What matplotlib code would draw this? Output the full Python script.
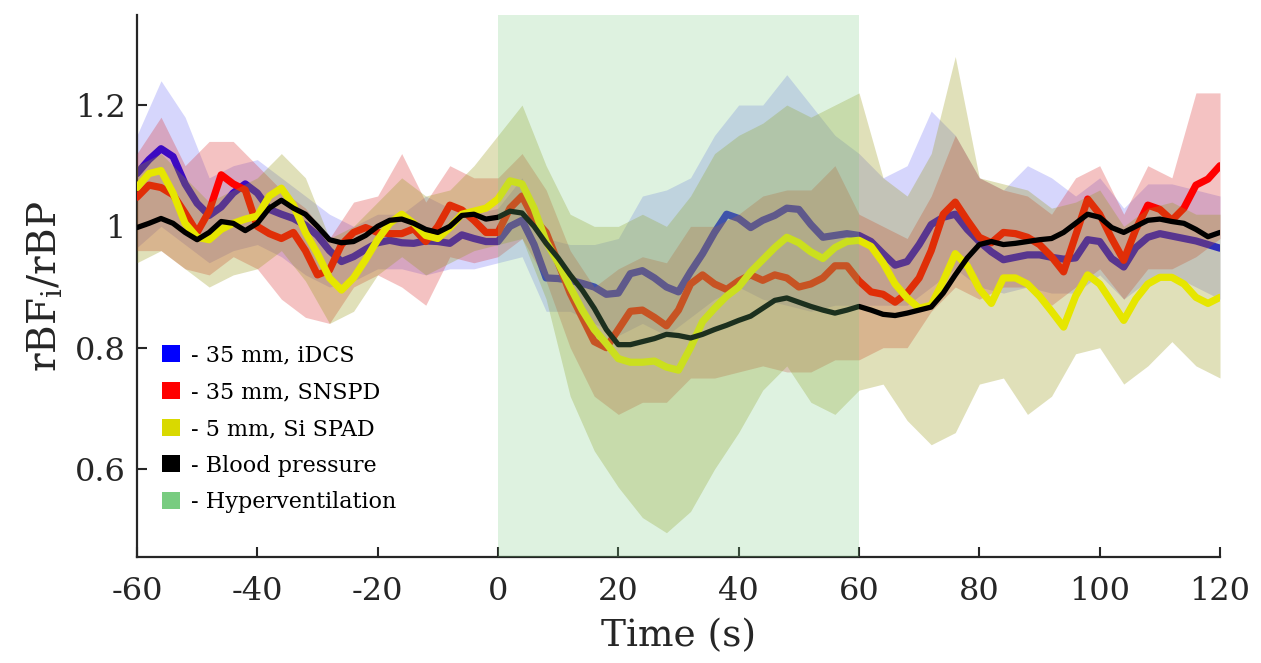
import numpy as np
import matplotlib
matplotlib.use("Agg")
import matplotlib.pyplot as plt
from matplotlib.patches import Patch

# ---- data ----
t_line = list(range(-60, 121, 2))
idcs = [1.087, 1.11, 1.128, 1.115, 1.07, 1.038, 1.018, 1.032, 1.055, 1.07, 1.055, 1.028, 1.02, 1.013,
        1.002, 0.985, 0.96, 0.942, 0.95, 0.962, 0.973, 0.977, 0.973, 0.972, 0.976, 0.975, 0.972, 0.986,
        0.98, 0.975, 0.975, 1.0, 1.01, 0.97, 0.915, 0.914, 0.911, 0.906, 0.9, 0.888, 0.89, 0.922, 0.927,
        0.915, 0.9, 0.892, 0.925, 0.955, 0.99, 1.02, 1.013, 0.998, 1.01, 1.018, 1.03, 1.028, 1.003, 0.982,
        0.985, 0.988, 0.985, 0.975, 0.955, 0.936, 0.942, 0.97, 1.003, 1.015, 1.02, 0.995, 0.975, 0.958,
        0.945, 0.949, 0.953, 0.953, 0.949, 0.946, 0.948, 0.978, 0.975, 0.947, 0.933, 0.965, 0.982, 0.988,
        0.984, 0.98, 0.976, 0.97, 0.964]
snspd = [1.048, 1.068, 1.064, 1.052, 1.022, 0.99, 1.025, 1.085, 1.07, 1.06, 1.0, 0.988, 0.98, 0.99,
         0.96, 0.92, 0.928, 0.97, 0.99, 0.998, 0.99, 0.988, 0.988, 0.996, 0.975, 1.0, 1.035, 1.027, 1.01,
         0.99, 0.99, 1.03, 1.05, 1.012, 0.99, 0.94, 0.89, 0.85, 0.81, 0.8, 0.83, 0.86, 0.862, 0.85, 0.836,
         0.862, 0.905, 0.92, 0.905, 0.896, 0.91, 0.92, 0.911, 0.92, 0.915, 0.9, 0.905, 0.915, 0.935, 0.935,
         0.91, 0.892, 0.888, 0.875, 0.89, 0.915, 0.96, 1.02, 1.04, 1.01, 0.982, 0.973, 0.99, 0.988, 0.982,
         0.97, 0.95, 0.925, 0.985, 1.045, 1.02, 0.98, 0.944, 0.995, 1.035, 1.028, 1.01, 1.03, 1.068, 1.078,
         1.10]
sispad = [1.064, 1.087, 1.092, 1.055, 1.005, 0.982, 0.978, 0.995, 1.005, 1.012, 1.017, 1.05, 1.063,
          1.035, 0.99, 0.955, 0.915, 0.895, 0.915, 0.945, 0.978, 1.005, 1.02, 1.005, 0.985, 0.98, 0.998,
          1.02, 1.025, 1.03, 1.045, 1.075, 1.07, 1.03, 0.975, 0.94, 0.9, 0.862, 0.83, 0.807, 0.782, 0.776,
          0.776, 0.778, 0.768, 0.763, 0.8, 0.843, 0.865, 0.885, 0.9, 0.925, 0.945, 0.965, 0.982, 0.973,
          0.958, 0.947, 0.965, 0.975, 0.977, 0.967, 0.94, 0.905, 0.882, 0.865, 0.87, 0.91, 0.955, 0.935,
          0.897, 0.873, 0.915, 0.915, 0.905, 0.885, 0.86, 0.834, 0.885, 0.92, 0.905, 0.875, 0.845, 0.88,
          0.905, 0.916, 0.916, 0.905, 0.883, 0.873, 0.883]
bp = [0.998, 1.005, 1.013, 1.005, 0.99, 0.978, 0.99, 1.008, 1.005, 0.993, 1.005, 1.03, 1.043, 1.03,
      1.02, 1.0, 0.978, 0.973, 0.975, 0.985, 1.0, 1.01, 1.012, 1.005, 0.995, 0.99, 1.0, 1.018, 1.02,
      1.012, 1.015, 1.025, 1.022, 1.0, 0.972, 0.948, 0.92, 0.895, 0.865, 0.83, 0.805, 0.805, 0.81, 0.815,
      0.822, 0.82, 0.816, 0.822, 0.83, 0.837, 0.845, 0.852, 0.865, 0.878, 0.882, 0.875, 0.868, 0.862,
      0.857, 0.862, 0.868, 0.862, 0.855, 0.853, 0.857, 0.862, 0.867, 0.89, 0.92, 0.948, 0.97, 0.975,
      0.97, 0.972, 0.975, 0.978, 0.98, 0.99, 1.005, 1.02, 1.015, 0.998, 0.99, 1.0, 1.01, 1.012, 1.008,
      1.005, 0.995, 0.983, 0.99]

t_band = list(range(-60, 121, 4))
idcs_lo = [0.965, 1.0, 0.97, 0.94, 0.96, 0.97, 0.95, 0.92, 0.90, 0.91, 0.93, 0.93, 0.92, 0.93, 0.93, 0.94,
           0.95, 0.86, 0.86, 0.84, 0.82, 0.84, 0.82, 0.85, 0.88, 0.90, 0.88, 0.87, 0.86, 0.87, 0.87, 0.87,
           0.87, 0.90, 0.93, 0.90, 0.89, 0.90, 0.89, 0.89, 0.92, 0.88, 0.91, 0.92, 0.90, 0.88]
idcs_hi = [1.15, 1.24, 1.18, 1.08, 1.10, 1.11, 1.08, 1.05, 1.02, 1.00, 1.02, 1.02, 1.05, 1.03, 1.02, 1.03,
           1.08, 0.98, 0.97, 0.97, 0.98, 1.05, 1.06, 1.08, 1.15, 1.20, 1.20, 1.25, 1.20, 1.15, 1.12, 1.08,
           1.10, 1.19, 1.15, 1.08, 1.06, 1.10, 1.08, 1.05, 1.08, 1.03, 1.07, 1.07, 1.06, 1.05]
snspd_lo = [0.96, 0.96, 0.93, 0.92, 0.95, 0.93, 0.88, 0.85, 0.84, 0.90, 0.92, 0.90, 0.87, 0.95, 0.94, 0.95,
            0.98, 0.91, 0.80, 0.72, 0.69, 0.71, 0.71, 0.75, 0.75, 0.76, 0.77, 0.76, 0.76, 0.78, 0.78, 0.80,
            0.80, 0.86, 0.90, 0.88, 0.90, 0.90, 0.87, 0.90, 0.93, 0.88, 0.93, 0.93, 0.95, 0.98]
snspd_hi = [1.12, 1.18, 1.10, 1.14, 1.14, 1.10, 1.06, 1.03, 0.98, 1.04, 1.05, 1.12, 1.04, 1.10, 1.08, 1.08,
            1.12, 1.06, 0.96, 0.90, 0.93, 0.95, 0.94, 1.00, 1.00, 1.02, 1.05, 1.06, 1.06, 1.10, 1.02, 1.00,
            0.98, 1.05, 1.15, 1.08, 1.06, 1.05, 1.02, 1.08, 1.10, 1.02, 1.10, 1.08, 1.22, 1.22]
sispad_lo = [0.94, 0.96, 0.93, 0.90, 0.92, 0.93, 0.96, 0.91, 0.84, 0.86, 0.92, 0.95, 0.92, 0.94, 0.96, 0.97,
             0.98, 0.88, 0.72, 0.63, 0.57, 0.52, 0.495, 0.53, 0.60, 0.66, 0.73, 0.77, 0.71, 0.69, 0.73, 0.74,
             0.68, 0.64, 0.66, 0.74, 0.75, 0.69, 0.72, 0.79, 0.80, 0.74, 0.77, 0.81, 0.77, 0.75]
sispad_hi = [1.10, 1.12, 1.08, 1.04, 1.06, 1.08, 1.12, 1.08, 0.98, 1.00, 1.04, 1.08, 1.05, 1.06, 1.10, 1.15,
             1.20, 1.10, 1.02, 1.00, 1.00, 1.02, 1.00, 1.05, 1.12, 1.15, 1.17, 1.20, 1.18, 1.20, 1.22, 1.08,
             1.05, 1.12, 1.28, 1.08, 1.07, 1.06, 1.03, 1.04, 1.06, 1.00, 1.03, 1.04, 1.02, 1.02]

hyper_start, hyper_end = 0, 60
labels = ["- 35 mm, iDCS", "- 35 mm, SNSPD", "- 5 mm, Si SPAD", "- Blood pressure", "- Hyperventilation"]
xticks = [-60, -40, -20, 0, 20, 40, 60, 80, 100, 120]
yticks = [0.6, 0.8, 1.0, 1.2]
ytick_labels = ["0.6", "0.8", "1", "1.2"]

# ---- style ----
plt.rcParams['font.family'] = ['DejaVu Serif']
plt.rcParams['mathtext.fontset'] = 'dejavuserif'

c_blue = (0.0, 0.0, 1.0)
c_red = (1.0, 0.0, 0.0)
c_yel = (0.9, 0.9, 0.0)
c_green = (0.47, 0.80, 0.50)
spine_c = '#262626'

fig = plt.figure(figsize=(12.61, 6.63), dpi=100)
ax = fig.add_axes([0.1086, 0.1599, 0.8589, 0.8171])

ax.fill_between(t_band, idcs_lo, idcs_hi, color=(0.2, 0.2, 0.95), alpha=0.2, lw=0, zorder=1)
ax.plot(t_line, idcs, color=c_blue, lw=5.2, zorder=2, solid_capstyle='round')
ax.fill_between(t_band, snspd_lo, snspd_hi, color=(0.85, 0.15, 0.15), alpha=0.28, lw=0, zorder=3)
ax.plot(t_line, snspd, color=c_red, lw=5.2, zorder=4, solid_capstyle='round')
ax.fill_between(t_band, sispad_lo, sispad_hi, color=(0.6, 0.6, 0.1), alpha=0.3, lw=0, zorder=5)
ax.plot(t_line, sispad, color=c_yel, lw=5.2, zorder=6, solid_capstyle='round')
ax.plot(t_line, bp, color='black', lw=3.8, zorder=7, solid_capstyle='round')
ax.axvspan(hyper_start, hyper_end, color=c_green, alpha=0.24, lw=0, zorder=8)

ax.set_xlim(-60, 120)
ax.set_ylim(0.455, 1.348)
ax.set_xticks(xticks)
ax.set_xticklabels([str(v) for v in xticks])
ax.set_yticks(yticks)
ax.set_yticklabels(ytick_labels)
ax.tick_params(direction='in', length=7, width=1.5, colors=spine_c, labelsize=23, pad=8)
ax.tick_params(axis='x', pad=14)
for s in ['top', 'right']:
    ax.spines[s].set_visible(False)
for s in ['left', 'bottom']:
    ax.spines[s].set_linewidth(1.6)
    ax.spines[s].set_color(spine_c)

ax.set_xlabel('Time (s)', fontsize=27, color=spine_c, labelpad=8)
ax.set_ylabel(r'rBF$_{\mathrm{i}}$/rBP', fontsize=28, color=spine_c, labelpad=8)

handles = [Patch(facecolor=c, edgecolor='none') for c in
           [c_blue, c_red, (0.85, 0.85, 0.0), 'black', c_green]]
leg = ax.legend(handles, labels, loc='upper left', bbox_to_anchor=(0.023, 0.392),
                frameon=False, fontsize=16, handlelength=0.8, handleheight=0.8,
                handletextpad=0.5, labelspacing=0.66, borderpad=0, borderaxespad=0)
leg.set_zorder(20)

fig.savefig('out.png', dpi=100)
